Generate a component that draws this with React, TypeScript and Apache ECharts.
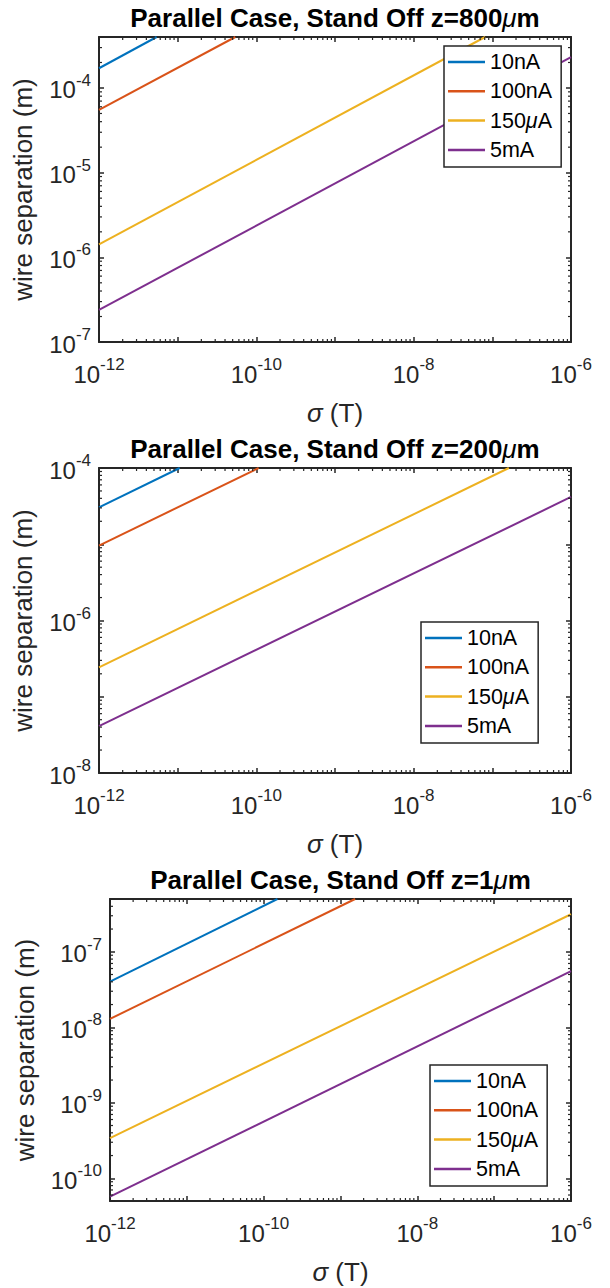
import React, { useEffect, useRef } from 'react';
import * as echarts from 'echarts';

const FONT = '"Liberation Sans", Arial, Helvetica, sans-serif';
const AX = '#262626';

// ---- data: [sigma (T), wire separation (m)] end points ----
const SERIES_NAMES = ['10nA', '100nA', '150μA', '5mA'];
const COLORS = ['#0072BD', '#D95319', '#EDB120', '#7E2F8E'];
const TITLE_Z = ['800', '200', '1'];

// Stand off z = 800 μm
const Z800_10NA = [[1e-12, 1.71e-4], [5.4e-12, 4.0e-4]];
const Z800_100NA = [[1e-12, 5.5e-5], [5.4e-11, 4.0e-4]];
const Z800_150UA = [[1e-12, 1.42e-6], [8.1e-8, 4.0e-4]];
const Z800_5MA = [[1e-12, 2.39e-7], [1e-6, 2.32e-4]];

// Stand off z = 200 μm
const Z200_10NA = [[1e-12, 3.05e-5], [1.06e-11, 1e-4]];
const Z200_100NA = [[1e-12, 9.6e-6], [1.07e-10, 1e-4]];
const Z200_150UA = [[1e-12, 2.43e-7], [1.62e-7, 1e-4]];
const Z200_5MA = [[1e-12, 4.13e-8], [1e-6, 4.17e-5]];

// Stand off z = 1 μm
const Z1_10NA = [[1e-12, 4.02e-8], [1.51e-10, 5e-7]];
const Z1_100NA = [[1e-12, 1.29e-8], [1.55e-9, 5e-7]];
const Z1_150UA = [[1e-12, 3.41e-10], [1e-6, 3.14e-7]];
const Z1_5MA = [[1e-12, 5.7e-11], [1e-6, 5.53e-8]];

const PANEL_DATA = [
  [Z800_10NA, Z800_100NA, Z800_150UA, Z800_5MA],
  [Z200_10NA, Z200_100NA, Z200_150UA, Z200_5MA],
  [Z1_10NA, Z1_100NA, Z1_150UA, Z1_5MA],
];

// axis limits and tick labels (exponents of 10)
const X_LIMITS = [1e-12, 1e-6];
const Y_LIMITS = [[1e-7, 4e-4], [1e-8, 1e-4], [5e-11, 5e-7]];
const X_TICK_EXPONENTS = [-12, -10, -8, -6];
const Y_TICK_EXPONENTS = [[-7, -6, -5, -4], [-8, -6, -4], [-10, -9, -8, -7]];
const MINOR_MULTIPLES = [2, 3, 4, 5, 6, 7, 8, 9];

// ---- layout ----
const PANEL_LAYOUT = [
  { left: 99, top: 37, legendLeft: 444, legendTop: 46, yNameGap: 56 },
  { left: 99, top: 468, legendLeft: 421, legendTop: 622, yNameGap: 56 },
  { left: 110, top: 899, legendLeft: 430, legendTop: 1065, yNameGap: 67 },
];
const PLOT_RIGHT = 571;
const PLOT_H = 305;

const lg = (v: number) => Math.log10(v);

const TICK_RICH = {
  b: { fontSize: 24, fontFamily: FONT, color: AX, lineHeight: 36 },
  s: { fontSize: 17, fontFamily: FONT, color: AX, lineHeight: 18, verticalAlign: 'top' },
};

function expFormatter(exps: number[]) {
  return (v: number) => {
    const e = exps.find((x) => Math.abs(v - x) < 1e-6);
    return e === undefined ? '' : `{b|10}{s|${e}}`;
  };
}

function buildOption() {
  const grid: any[] = [];
  const xAxis: any[] = [];
  const yAxis: any[] = [];
  const series: any[] = [];
  const legend: any[] = [];
  const graphic: any[] = [];
  const xMin = lg(X_LIMITS[0]);
  const xMax = lg(X_LIMITS[1]);

  PANEL_LAYOUT.forEach((p, i) => {
    const yMin = lg(Y_LIMITS[i][0]);
    const yMax = lg(Y_LIMITS[i][1]);
    grid.push({ left: p.left, top: p.top, width: PLOT_RIGHT - p.left, height: PLOT_H, containLabel: false });

    const axisLine = { show: true, onZero: false, lineStyle: { color: AX, width: 2 } };
    const axisTick = { show: true, inside: true, length: 5, lineStyle: { color: AX, width: 1.5 } };

    xAxis.push({
      type: 'value', gridIndex: i, position: 'bottom', min: xMin, max: xMax, interval: 1,
      axisLine, axisTick, splitLine: { show: false },
      axisLabel: { show: true, margin: 14, formatter: expFormatter(X_TICK_EXPONENTS), rich: TICK_RICH },
      name: '{g|σ} (T)', nameLocation: 'middle', nameGap: 56,
      nameTextStyle: {
        fontSize: 26, fontFamily: FONT, color: AX, lineHeight: 30,
        rich: { g: { fontSize: 26, fontFamily: FONT, color: AX, fontStyle: 'italic', lineHeight: 30 } },
      },
    });
    xAxis.push({
      type: 'value', gridIndex: i, position: 'top', min: xMin, max: xMax, interval: 1,
      axisLine, axisTick, splitLine: { show: false }, axisLabel: { show: false },
    });
    const yCommon: any = { type: 'value', gridIndex: i, min: yMin, max: yMax, minInterval: 1, maxInterval: 1 };
    yAxis.push({
      ...yCommon, position: 'left', axisLine, axisTick, splitLine: { show: false },
      axisLabel: { show: true, margin: 8, padding: [4, 0, 0, 0], formatter: expFormatter(Y_TICK_EXPONENTS[i]), rich: TICK_RICH },
      name: 'wire separation (m)', nameLocation: 'middle', nameGap: p.yNameGap,
      nameTextStyle: { fontSize: 26, fontFamily: FONT, color: AX, lineHeight: 30 },
    });
    yAxis.push({
      ...yCommon, position: 'right', axisLine, axisTick, splitLine: { show: false }, axisLabel: { show: false },
    });

    PANEL_DATA[i].forEach((pts, k) => {
      series.push({
        type: 'line', name: SERIES_NAMES[k], xAxisIndex: 2 * i, yAxisIndex: 2 * i,
        data: pts.map(([x, y]) => [lg(x), lg(y)]),
        symbol: 'none', showSymbol: false, clip: true, silent: true,
        lineStyle: { color: COLORS[k], width: 2 }, itemStyle: { color: COLORS[k] },
      });
    });

    // minor (log) ticks on all four sides
    const minor: number[][] = [];
    for (let n = Math.floor(xMin); n < Math.ceil(xMax); n++) {
      MINOR_MULTIPLES.forEach((m) => {
        const v = n + lg(m);
        if (v > xMin && v < xMax) minor.push([0, v]);
      });
    }
    for (let n = Math.floor(yMin); n < Math.ceil(yMax); n++) {
      MINOR_MULTIPLES.forEach((m) => {
        const v = n + lg(m);
        if (v > yMin && v < yMax) minor.push([1, v]);
      });
    }
    series.push({
      type: 'custom', name: 'minor ticks', xAxisIndex: 2 * i, yAxisIndex: 2 * i, silent: true, z: 5,
      data: minor,
      renderItem: (params: any, api: any) => {
        const kind = api.value(0);
        const v = api.value(1);
        const L = 3;
        const st = { stroke: AX, lineWidth: 1.2 };
        if (kind === 0) {
          const pb = api.coord([v, yMin]);
          const pt = api.coord([v, yMax]);
          return {
            type: 'group', children: [
              { type: 'line', shape: { x1: pb[0], y1: pb[1], x2: pb[0], y2: pb[1] - L }, style: st },
              { type: 'line', shape: { x1: pt[0], y1: pt[1], x2: pt[0], y2: pt[1] + L }, style: st },
            ],
          };
        }
        const pl = api.coord([xMin, v]);
        const pr = api.coord([xMax, v]);
        return {
          type: 'group', children: [
            { type: 'line', shape: { x1: pl[0], y1: pl[1], x2: pl[0] + L, y2: pl[1] }, style: st },
            { type: 'line', shape: { x1: pr[0], y1: pr[1], x2: pr[0] - L, y2: pr[1] }, style: st },
          ],
        };
      },
    });

    legend.push({
      show: true, orient: 'vertical', left: p.legendLeft, top: p.legendTop,
      data: SERIES_NAMES.map((n) => ({ name: n, icon: 'rect' })), selectedMode: false,
      itemWidth: 37, itemHeight: 2.5, itemGap: 7.3,
      itemStyle: { borderWidth: 0 },
      padding: [5, 9, 6, 4],
      backgroundColor: '#ffffff', borderColor: AX, borderWidth: 1.5, borderRadius: 0,
      formatter: (n: string) => n.replace('μ', '{g|μ}'),
      textStyle: {
        fontSize: 21.5, fontFamily: FONT, color: '#000', lineHeight: 22,
        rich: { g: { fontSize: 21.5, fontFamily: FONT, color: '#000', fontStyle: 'italic', lineHeight: 22 } },
      },
    });

    graphic.push({
      type: 'text', silent: true,
      x: (p.left + PLOT_RIGHT) / 2, y: p.top - 19.5,
      style: {
        text: `{t|Parallel Case, Stand Off z=${TITLE_Z[i]}}{g|μ}{t|m}`,
        rich: {
          t: { fontSize: 26, fontWeight: 'bold', fontFamily: FONT, fill: '#000', color: '#000' },
          g: { fontSize: 26, fontStyle: 'italic', fontFamily: FONT, fill: '#000', color: '#000' },
        },
        align: 'center', verticalAlign: 'middle', textAlign: 'center', textVerticalAlign: 'middle',
        fill: '#000',
      },
    });
  });

  return {
    animation: false,
    backgroundColor: '#ffffff',
    grid, xAxis, yAxis, series, legend, graphic,
  };
}

export default function App() {
  const ref = useRef<HTMLDivElement>(null);
  useEffect(() => {
    document.body.style.margin = '0';
    const chart = echarts.init(ref.current!, undefined, { renderer: 'svg' });
    chart.setOption(buildOption() as any);
    return () => chart.dispose();
  }, []);
  return <div ref={ref} style={{ position: 'absolute', left: 0, top: 0, width: 610, height: 1288 }} />;
}
